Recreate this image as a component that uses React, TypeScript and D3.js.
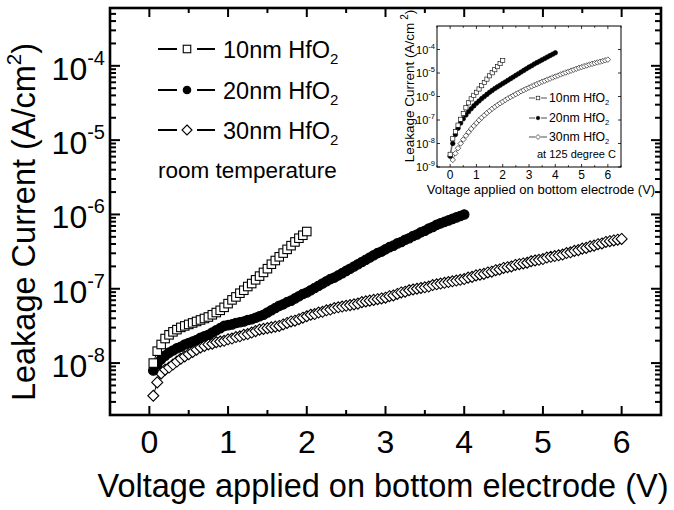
import React from 'react';
import * as d3 from 'd3';

const W = 674;
const H = 510;
const FONT = "'Liberation Sans', Arial, Helvetica, sans-serif";

// ---------- data (voltage V, log10 of leakage current density A/cm^2) ----------
const xTickValues = [0, 1, 2, 3, 4, 5, 6];
const yDecadesMain = [-4, -5, -6, -7, -8];
const yDecadesInset = [-4, -5, -6, -7, -8, -9];
const legendNames = ['10nm HfO', '20nm HfO', '30nm HfO'];
const mainNote = 'room temperature';
const insetNote = 'at 125 degree C';

// main chart: room temperature
const main10nm: [number, number][] = [
  [0.05, -8.0], [0.1, -7.84], [0.15, -7.75], [0.2, -7.67], [0.25, -7.62], [0.3, -7.58], [0.35, -7.55], [0.4, -7.52],
  [0.45, -7.5], [0.5, -7.48], [0.55, -7.46], [0.6, -7.44], [0.65, -7.42], [0.7, -7.4], [0.75, -7.38], [0.8, -7.35],
  [0.85, -7.32], [0.9, -7.29], [0.95, -7.25], [1.0, -7.2], [1.05, -7.15], [1.1, -7.11], [1.15, -7.06], [1.2, -7.02],
  [1.25, -6.97], [1.3, -6.93], [1.35, -6.88], [1.4, -6.83], [1.45, -6.78], [1.5, -6.73], [1.55, -6.67], [1.6, -6.62],
  [1.65, -6.57], [1.7, -6.52], [1.75, -6.47], [1.8, -6.42], [1.85, -6.37], [1.9, -6.32], [1.95, -6.28], [2.0, -6.23],
];

const main20nm: [number, number][] = [
  [0.05, -8.1], [0.1, -8.02], [0.15, -7.95], [0.2, -7.9], [0.25, -7.86], [0.3, -7.83], [0.35, -7.8], [0.4, -7.78],
  [0.45, -7.75], [0.5, -7.73], [0.55, -7.71], [0.6, -7.69], [0.65, -7.66], [0.7, -7.64], [0.75, -7.62], [0.8, -7.59],
  [0.85, -7.56], [0.9, -7.53], [0.95, -7.5], [1.0, -7.49], [1.05, -7.48], [1.1, -7.46], [1.15, -7.45], [1.2, -7.44],
  [1.25, -7.42], [1.3, -7.41], [1.35, -7.39], [1.4, -7.37], [1.45, -7.35], [1.5, -7.32], [1.55, -7.29], [1.6, -7.26],
  [1.65, -7.23], [1.7, -7.21], [1.75, -7.18], [1.8, -7.16], [1.85, -7.13], [1.9, -7.1], [1.95, -7.07], [2.0, -7.05],
  [2.05, -7.02], [2.1, -6.99], [2.15, -6.96], [2.2, -6.93], [2.25, -6.9], [2.3, -6.87], [2.35, -6.85], [2.4, -6.82],
  [2.45, -6.79], [2.5, -6.76], [2.55, -6.73], [2.6, -6.7], [2.65, -6.67], [2.7, -6.64], [2.75, -6.61], [2.8, -6.58],
  [2.85, -6.55], [2.9, -6.52], [2.95, -6.5], [3.0, -6.47], [3.05, -6.44], [3.1, -6.42], [3.15, -6.39], [3.2, -6.37],
  [3.25, -6.34], [3.3, -6.32], [3.35, -6.29], [3.4, -6.27], [3.45, -6.24], [3.5, -6.22], [3.55, -6.19], [3.6, -6.17],
  [3.65, -6.14], [3.7, -6.12], [3.75, -6.1], [3.8, -6.08], [3.85, -6.06], [3.9, -6.04], [3.95, -6.02], [4.0, -6.0],
];

const main30nm: [number, number][] = [
  [0.05, -8.44], [0.1, -8.26], [0.15, -8.14], [0.2, -8.09], [0.25, -8.06], [0.3, -8.02], [0.35, -7.98], [0.4, -7.94],
  [0.45, -7.91], [0.5, -7.88], [0.55, -7.85], [0.6, -7.82], [0.65, -7.79], [0.7, -7.77], [0.75, -7.75], [0.8, -7.74],
  [0.85, -7.72], [0.9, -7.71], [0.95, -7.7], [1.0, -7.68], [1.05, -7.67], [1.1, -7.65], [1.15, -7.64], [1.2, -7.62],
  [1.25, -7.61], [1.3, -7.59], [1.35, -7.57], [1.4, -7.55], [1.45, -7.54], [1.5, -7.53], [1.55, -7.52], [1.6, -7.51],
  [1.65, -7.5], [1.7, -7.48], [1.75, -7.46], [1.8, -7.44], [1.85, -7.43], [1.9, -7.41], [1.95, -7.39], [2.0, -7.37],
  [2.05, -7.35], [2.1, -7.34], [2.15, -7.32], [2.2, -7.31], [2.25, -7.29], [2.3, -7.28], [2.35, -7.26], [2.4, -7.25],
  [2.45, -7.24], [2.5, -7.23], [2.55, -7.22], [2.6, -7.21], [2.65, -7.2], [2.7, -7.18], [2.75, -7.17], [2.8, -7.16],
  [2.85, -7.15], [2.9, -7.14], [2.95, -7.13], [3.0, -7.12], [3.05, -7.1], [3.1, -7.09], [3.15, -7.07], [3.2, -7.05],
  [3.25, -7.04], [3.3, -7.02], [3.35, -7.01], [3.4, -7.0], [3.45, -6.99], [3.5, -6.98], [3.55, -6.97], [3.6, -6.95],
  [3.65, -6.94], [3.7, -6.93], [3.75, -6.92], [3.8, -6.91], [3.85, -6.9], [3.9, -6.89], [3.95, -6.88], [4.0, -6.87],
  [4.05, -6.85], [4.1, -6.84], [4.15, -6.82], [4.2, -6.81], [4.25, -6.8], [4.3, -6.78], [4.35, -6.77], [4.4, -6.75],
  [4.45, -6.74], [4.5, -6.72], [4.55, -6.71], [4.6, -6.7], [4.65, -6.68], [4.7, -6.67], [4.75, -6.66], [4.8, -6.65],
  [4.85, -6.63], [4.9, -6.62], [4.95, -6.61], [5.0, -6.6], [5.05, -6.58], [5.1, -6.57], [5.15, -6.56], [5.2, -6.55],
  [5.25, -6.54], [5.3, -6.52], [5.35, -6.51], [5.4, -6.49], [5.45, -6.48], [5.5, -6.46], [5.55, -6.45], [5.6, -6.43],
  [5.65, -6.42], [5.7, -6.4], [5.75, -6.39], [5.8, -6.37], [5.85, -6.36], [5.9, -6.35], [5.95, -6.34], [6.0, -6.33],
];

// inset: 125 degree C
const inset10nm: [number, number][] = [
  [0.0, -8.46], [0.1, -7.8], [0.2, -7.5], [0.3, -7.22], [0.4, -6.97], [0.5, -6.72], [0.6, -6.48], [0.7, -6.27],
  [0.8, -6.1], [0.9, -5.95], [1.0, -5.82], [1.1, -5.68], [1.2, -5.54], [1.3, -5.4], [1.4, -5.26], [1.5, -5.12],
  [1.6, -4.99], [1.7, -4.86], [1.8, -4.73], [1.9, -4.6], [2.0, -4.47],
];

const inset20nm: [number, number][] = [
  [0.0, -8.54], [0.1, -8.0], [0.2, -7.62], [0.3, -7.35], [0.4, -7.13], [0.5, -6.95], [0.6, -6.79], [0.7, -6.65],
  [0.8, -6.52], [0.9, -6.4], [1.0, -6.29], [1.1, -6.19], [1.2, -6.09], [1.3, -6.0], [1.4, -5.91], [1.5, -5.82],
  [1.6, -5.74], [1.7, -5.66], [1.8, -5.59], [1.9, -5.52], [2.0, -5.45], [2.1, -5.38], [2.2, -5.31], [2.3, -5.24],
  [2.4, -5.17], [2.5, -5.1], [2.6, -5.03], [2.7, -4.96], [2.8, -4.89], [2.9, -4.82], [3.0, -4.75], [3.1, -4.69],
  [3.2, -4.62], [3.3, -4.56], [3.4, -4.5], [3.5, -4.44], [3.6, -4.38], [3.7, -4.32], [3.8, -4.26], [3.9, -4.2],
  [4.0, -4.14],
];

const inset30nm: [number, number][] = [
  [0.1, -8.7], [0.2, -8.42], [0.3, -8.2], [0.4, -8.0], [0.5, -7.83], [0.6, -7.67], [0.7, -7.52], [0.8, -7.38],
  [0.9, -7.25], [1.0, -7.13], [1.1, -7.01], [1.2, -6.9], [1.3, -6.8], [1.4, -6.7], [1.5, -6.61], [1.6, -6.52],
  [1.7, -6.44], [1.8, -6.36], [1.9, -6.29], [2.0, -6.22], [2.1, -6.15], [2.2, -6.08], [2.3, -6.02], [2.4, -5.96],
  [2.5, -5.9], [2.6, -5.84], [2.7, -5.78], [2.8, -5.73], [2.9, -5.67], [3.0, -5.62], [3.1, -5.57], [3.2, -5.52],
  [3.3, -5.47], [3.4, -5.42], [3.5, -5.37], [3.6, -5.33], [3.7, -5.28], [3.8, -5.24], [3.9, -5.19], [4.0, -5.15],
  [4.1, -5.11], [4.2, -5.06], [4.3, -5.02], [4.4, -4.98], [4.5, -4.94], [4.6, -4.9], [4.7, -4.86], [4.8, -4.82],
  [4.9, -4.78], [5.0, -4.75], [5.1, -4.71], [5.2, -4.68], [5.3, -4.64], [5.4, -4.61], [5.5, -4.58], [5.6, -4.55],
  [5.7, -4.52], [5.8, -4.49], [5.9, -4.46], [6.0, -4.43],
];

type Kind = 'square' | 'circle' | 'diamond';

function Marker({ kind, cx, cy, s, sw }: { kind: Kind; cx: number; cy: number; s: number; sw: number }) {
  if (kind === 'square') {
    return <rect x={cx - s / 2} y={cy - s / 2} width={s} height={s} fill="#fff" stroke="#000" strokeWidth={sw} />;
  }
  if (kind === 'circle') {
    return <circle cx={cx} cy={cy} r={s / 2} fill="#000" stroke="#000" strokeWidth={sw} />;
  }
  const r = s / 2;
  return (
    <path
      d={`M${cx},${cy - r}L${cx + r},${cy}L${cx},${cy + r}L${cx - r},${cy}Z`}
      fill="#fff"
      stroke="#000"
      strokeWidth={sw}
    />
  );
}

function minorLogTicks(lo: number, hi: number): number[] {
  const out: number[] = [];
  for (let d = Math.floor(Math.log10(lo)); d <= Math.ceil(Math.log10(hi)); d++) {
    for (let m = 2; m <= 9; m++) {
      const v = m * Math.pow(10, d);
      if (v > lo && v < hi) out.push(v);
    }
  }
  return out;
}

export default function App() {
  // ---- main scales ----
  const L = 110, R = 661, T = 8, B = 415;
  const x = d3.scaleLinear().domain([-0.5, 6.5]).range([L, R]);
  const y = d3.scaleLog().domain([2e-9, 6e-4]).range([B, T]);

  // ---- inset scales ----
  const iL = 437, iR = 621, iT = 26, iB = 167;
  const ix = d3.scaleLinear().domain([-0.5, 6.5]).range([iL, iR]);
  const iy = d3.scaleLog().domain([1e-9, 1e-3]).range([iB, iT]);

  const mainLine = d3
    .line<[number, number]>()
    .x((d) => x(d[0]))
    .y((d) => y(Math.pow(10, d[1])));
  const insetLine = d3
    .line<[number, number]>()
    .x((d) => ix(d[0]))
    .y((d) => iy(Math.pow(10, d[1])));

  const mainSeries: { data: [number, number][]; kind: Kind; s: number }[] = [
    { data: main30nm, kind: 'diamond', s: 11 },
    { data: main20nm, kind: 'circle', s: 9.5 },
    { data: main10nm, kind: 'square', s: 8.5 },
  ];
  const insetSeries: { data: [number, number][]; kind: Kind; s: number }[] = [
    { data: inset30nm, kind: 'diamond', s: 5.5 },
    { data: inset20nm, kind: 'circle', s: 4.6 },
    { data: inset10nm, kind: 'square', s: 4.2 },
  ];

  const xMinor = d3.range(-0.5, 6.51, 1);
  const yMinor = minorLogTicks(2e-9, 6e-4);
  const legendKinds: Kind[] = ['square', 'circle', 'diamond'];
  const legendY = [49, 90, 130];
  const insetLegendY = [98, 118, 137];

  return (
    <svg
      width={W}
      height={H}
      style={{ position: 'absolute', left: 0, top: 0, background: '#fff' }}
      fontFamily={FONT}
    >
      <rect x={0} y={0} width={W} height={H} fill="#fff" />

      {/* ---------- main ticks ---------- */}
      <g stroke="#000" strokeWidth={2}>
        {xTickValues.map((v) => (
          <g key={'xt' + v}>
            <line x1={x(v)} x2={x(v)} y1={B} y2={B - 9} />
            <line x1={x(v)} x2={x(v)} y1={T} y2={T + 9} />
          </g>
        ))}
        {xMinor.map((v) => (
          <g key={'xm' + v}>
            <line x1={x(v)} x2={x(v)} y1={B} y2={B - 5} />
            <line x1={x(v)} x2={x(v)} y1={T} y2={T + 5} />
          </g>
        ))}
        {yDecadesMain.map((d) => (
          <g key={'yt' + d}>
            <line x1={L} x2={L + 10} y1={y(Math.pow(10, d))} y2={y(Math.pow(10, d))} />
            <line x1={R} x2={R - 10} y1={y(Math.pow(10, d))} y2={y(Math.pow(10, d))} />
          </g>
        ))}
        {yMinor.map((v, i) => (
          <g key={'ym' + i}>
            <line x1={L} x2={L + 6} y1={y(v)} y2={y(v)} />
            <line x1={R} x2={R - 6} y1={y(v)} y2={y(v)} />
          </g>
        ))}
      </g>

      {/* ---------- main tick labels ---------- */}
      <g fontSize={32} fill="#000">
        {xTickValues.map((v) => (
          <text key={'xl' + v} x={x(v)} y={B + 38} textAnchor="middle">
            {v}
          </text>
        ))}
        {yDecadesMain.map((d) => (
          <text key={'yl' + d} x={105} y={y(Math.pow(10, d)) + 14} textAnchor="end">
            <tspan>10</tspan>
            <tspan fontSize={20} dy={-15}>
              {'-' + Math.abs(d)}
            </tspan>
          </text>
        ))}
      </g>

      {/* ---------- axis titles ---------- */}
      <text x={383} y={497} fontSize={32.5} textAnchor="middle">
        Voltage applied on bottom electrode (V)
      </text>
      <text transform="translate(35,222) rotate(-90)" fontSize={32.5} textAnchor="middle">
        <tspan>Leakage Current (A/cm</tspan>
        <tspan fontSize={20.5} dy={-14}>2</tspan>
        <tspan dy={14}>)</tspan>
      </text>

      {/* ---------- main series ---------- */}
      {mainSeries.map((s, si) => (
        <g key={'ms' + si}>
          <path d={mainLine(s.data) || ''} fill="none" stroke="#000" strokeWidth={1} />
          {s.data.map((d, i) => (
            <Marker key={i} kind={s.kind} cx={x(d[0])} cy={y(Math.pow(10, d[1]))} s={s.s} sw={1.1} />
          ))}
        </g>
      ))}

      {/* ---------- main legend ---------- */}
      {legendNames.map((name, i) => (
        <g key={'lg' + i}>
          <line x1={158} x2={177} y1={legendY[i]} y2={legendY[i]} stroke="#000" strokeWidth={2} />
          <line x1={197} x2={215} y1={legendY[i]} y2={legendY[i]} stroke="#000" strokeWidth={2} />
          <Marker kind={legendKinds[i]} cx={187} cy={legendY[i]} s={legendKinds[i] === 'diamond' ? 10 : 7.5} sw={1.1} />
          <text x={223} y={legendY[i] + 9} fontSize={23.5}>
            <tspan>{name}</tspan>
            <tspan fontSize={15} dy={6}>2</tspan>
          </text>
        </g>
      ))}
      <text x={158} y={178} fontSize={22.5}>
        {mainNote}
      </text>

      {/* ---------- main frame ---------- */}
      <rect x={L} y={T} width={R - L} height={B - T} fill="none" stroke="#000" strokeWidth={2.6} />

      {/* ---------- inset ---------- */}
      <g>
        <rect x={iL} y={iT} width={iR - iL} height={iB - iT} fill="#fff" stroke="#000" strokeWidth={1} />
        <g stroke="#000" strokeWidth={0.8}>
          {xTickValues.map((v) => (
            <g key={'ixt' + v}>
              <line x1={ix(v)} x2={ix(v)} y1={iB} y2={iB - 3} />
              <line x1={ix(v)} x2={ix(v)} y1={iT} y2={iT + 3} />
            </g>
          ))}
          {xMinor.map((v) => (
            <g key={'ixm' + v}>
              <line x1={ix(v)} x2={ix(v)} y1={iB} y2={iB - 1.8} />
              <line x1={ix(v)} x2={ix(v)} y1={iT} y2={iT + 1.8} />
            </g>
          ))}
          {yDecadesInset.map((d) => (
            <g key={'iyt' + d}>
              <line x1={iL} x2={iL + 3} y1={iy(Math.pow(10, d))} y2={iy(Math.pow(10, d))} />
              <line x1={iR} x2={iR - 3} y1={iy(Math.pow(10, d))} y2={iy(Math.pow(10, d))} />
            </g>
          ))}
        </g>
        <g fill="#000">
          {xTickValues.map((v) => (
            <text key={'ixl' + v} x={ix(v)} y={iB + 12} fontSize={12} textAnchor="middle">
              {v}
            </text>
          ))}
          {yDecadesInset.map((d) => (
            <text key={'iyl' + d} x={435} y={iy(Math.pow(10, d)) + 4} fontSize={11} textAnchor="end">
              <tspan>10</tspan>
              <tspan fontSize={7.5} dy={-5}>
                {'-' + Math.abs(d)}
              </tspan>
            </text>
          ))}
        </g>
        <text x={541} y={194} fontSize={13} textAnchor="middle">
          Voltage applied on bottom electrode (V)
        </text>
        <text transform="translate(414,86) rotate(-90)" fontSize={13.5} textAnchor="middle">
          <tspan>Leakage Current (A/cm</tspan>
          <tspan fontSize={10} dy={-6}>{' 2'}</tspan>
          <tspan dy={6}>)</tspan>
        </text>

        {insetSeries.map((s, si) => (
          <g key={'is' + si}>
            <path d={insetLine(s.data) || ''} fill="none" stroke="#000" strokeWidth={0.5} />
            {s.data.map((d, i) => (
              <Marker
                key={i}
                kind={s.kind}
                cx={ix(d[0])}
                cy={iy(Math.pow(10, d[1]))}
                s={s.s}
                sw={0.6}
              />
            ))}
          </g>
        ))}

        {legendNames.map((name, i) => (
          <g key={'ilg' + i}>
            <line x1={529} x2={535} y1={insetLegendY[i]} y2={insetLegendY[i]} stroke="#000" strokeWidth={0.7} />
            <line x1={541} x2={547} y1={insetLegendY[i]} y2={insetLegendY[i]} stroke="#000" strokeWidth={0.7} />
            <Marker
              kind={legendKinds[i]}
              cx={538}
              cy={insetLegendY[i]}
              s={legendKinds[i] === 'diamond' ? 5 : 3.6}
              sw={0.6}
            />
            <text x={549} y={insetLegendY[i] + 4} fontSize={12.3}>
              <tspan>{name}</tspan>
              <tspan fontSize={7.5} dy={3}>2</tspan>
            </text>
          </g>
        ))}
        <text x={537} y={158} fontSize={11}>
          {insetNote}
        </text>
      </g>
    </svg>
  );
}
